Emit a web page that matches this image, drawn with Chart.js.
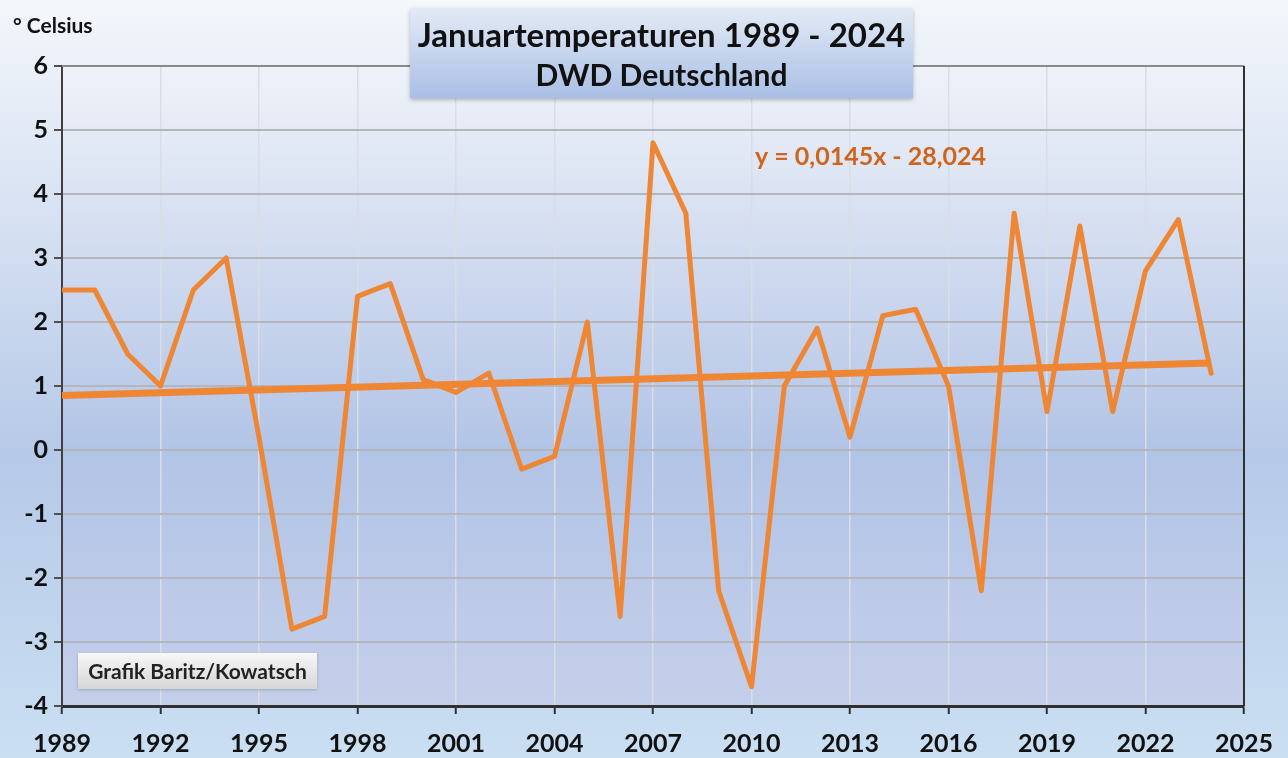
<!DOCTYPE html>
<html lang="de">
<head>
<meta charset="utf-8">
<title>Januartemperaturen 1989 - 2024</title>
<script src="https://cdn.jsdelivr.net/npm/chart.js@4/dist/chart.umd.min.js"></script>
<style>
  html, body { margin: 0; padding: 0; background: #ffffff; }
  #wrap { position: relative; width: 1288px; height: 758px; }
  canvas { display: block; }
</style>
</head>
<body>
<div id="wrap"><canvas id="janChart" width="1288" height="758"></canvas></div>
<script>
// --- Daten: Januarmittel Deutschland (DWD) ---
const years = [1989, 1990, 1991, 1992, 1993, 1994, 1995, 1996, 1997, 1998, 1999, 2000,
               2001, 2002, 2003, 2004, 2005, 2006, 2007, 2008, 2009, 2010, 2011, 2012,
               2013, 2014, 2015, 2016, 2017, 2018, 2019, 2020, 2021, 2022, 2023, 2024];
const temps = [2.5, 2.5, 1.5, 1.0, 2.5, 3.0, 0.2, -2.8, -2.6, 2.4, 2.6, 1.1,
               0.9, 1.2, -0.3, -0.1, 2.0, -2.6, 4.8, 3.7, -2.2, -3.7, 1.0, 1.9,
               0.2, 2.1, 2.2, 1.0, -2.2, 3.7, 0.6, 3.5, 0.6, 2.8, 3.6, 1.2];

// Trendlinie (Endpunkte, wie im Bild)
const trendYears = [1989, 2024];
const trendValues = [0.85, 1.36];

const xTicks = [1989, 1992, 1995, 1998, 2001, 2004, 2007, 2010, 2013, 2016, 2019, 2022, 2025];
const yTicks = [-4, -3, -2, -1, 0, 1, 2, 3, 4, 5, 6];

const FONT = "Lato, 'Open Sans', 'DejaVu Sans', sans-serif";
const ORANGE = '#ef8634';

// Hintergrund, Rahmen und Textfelder
const decoPlugin = {
    id: 'deco',
    beforeDraw(chart) {
        const ctx = chart.ctx;
        const a = chart.chartArea;
        const W = chart.width, H = chart.height;
        ctx.save();
        let g = ctx.createLinearGradient(0, 0, 0, H);
        g.addColorStop(0, '#f4f7fb');
        g.addColorStop(0.6, '#b6c9e8');
        g.addColorStop(1, '#cadff2');
        ctx.fillStyle = g;
        ctx.fillRect(0, 0, W, H);

        g = ctx.createLinearGradient(0, a.top, 0, a.bottom);
        g.addColorStop(0, '#eff2f9');
        g.addColorStop(0.6, '#b2c4e6');
        g.addColorStop(1, '#c4cfea');
        ctx.fillStyle = g;
        ctx.fillRect(a.left, a.top, a.right - a.left, a.bottom - a.top);
        ctx.restore();
    },
    afterDraw(chart) {
        const ctx = chart.ctx;
        const a = chart.chartArea;
        ctx.save();
        // top + right frame
        ctx.strokeStyle = '#8a8a8a';
        ctx.lineWidth = 2;
        ctx.beginPath();
        ctx.moveTo(a.left, a.top);
        ctx.lineTo(a.right, a.top);
        ctx.stroke();
        ctx.strokeStyle = '#303030';
        ctx.beginPath();
        ctx.moveTo(a.right, a.top);
        ctx.lineTo(a.right, a.bottom);
        ctx.stroke();

        // Titelfeld
        const bx = 410, by = 8, bw = 503, bh = 90;
        ctx.shadowColor = 'rgba(0,0,0,0.25)';
        ctx.shadowBlur = 4;
        ctx.shadowOffsetY = 2;
        let g = ctx.createLinearGradient(0, by, 0, by + bh);
        g.addColorStop(0, '#e3eaf6');
        g.addColorStop(1, '#a9bfe5');
        ctx.fillStyle = g;
        ctx.fillRect(bx, by, bw, bh);
        ctx.shadowColor = 'transparent';

        ctx.fillStyle = '#111111';
        ctx.textAlign = 'center';
        ctx.textBaseline = 'middle';
        ctx.font = 'bold 33px ' + FONT;
        ctx.fillText('Januartemperaturen 1989 - 2024', bx + bw / 2, 36);
        ctx.font = 'bold 30px ' + FONT;
        ctx.fillText('DWD Deutschland', bx + bw / 2, 76);

        // Einheit
        ctx.textAlign = 'left';
        ctx.font = 'bold 21px ' + FONT;
        ctx.fillText('° Celsius', 13, 26);

        // Trendgleichung
        ctx.fillStyle = '#d0641c';
        ctx.font = 'bold 25px ' + FONT;
        ctx.fillText('y = 0,0145x - 28,024', 755, 157);

        // Quelle
        const qx = 78, qy = 653, qw = 239, qh = 36;
        ctx.shadowColor = 'rgba(0,0,0,0.2)';
        ctx.shadowBlur = 3;
        ctx.shadowOffsetY = 1;
        g = ctx.createLinearGradient(0, qy, 0, qy + qh);
        g.addColorStop(0, '#f7f7f7');
        g.addColorStop(1, '#d6d6d6');
        ctx.fillStyle = g;
        ctx.fillRect(qx, qy, qw, qh);
        ctx.shadowColor = 'transparent';
        ctx.fillStyle = '#222222';
        ctx.font = 'bold 21px ' + FONT;
        ctx.textAlign = 'center';
        ctx.fillText('Grafik Baritz/Kowatsch', qx + qw / 2, qy + qh / 2 + 1);
        ctx.restore();
    }
};

const ctxLine = document.getElementById('janChart').getContext('2d');
new Chart(ctxLine, {
    type: 'line',
    data: {
        datasets: [
            {
                label: 'Januar',
                data: years.map((y, i) => ({ x: y, y: temps[i] })),
                borderColor: ORANGE,
                borderWidth: 5,
                borderJoinStyle: 'round',
                borderCapStyle: 'round',
                pointRadius: 0,
                tension: 0,
                fill: false,
                order: 2
            },
            {
                label: 'Trend',
                data: trendYears.map((y, i) => ({ x: y, y: trendValues[i] })),
                borderColor: ORANGE,
                borderWidth: 7,
                pointRadius: 0,
                fill: false,
                order: 1
            }
        ]
    },
    options: {
        responsive: false,
        animation: false,
        layout: { padding: { top: 66, right: 44, left: 0, bottom: 0 } },
        plugins: {
            legend: { display: false },
            tooltip: { enabled: false },
            title: { display: false }
        },
        scales: {
            x: {
                type: 'linear',
                min: xTicks[0],
                max: xTicks[xTicks.length - 1],
                afterBuildTicks: (s) => { s.ticks = xTicks.map(v => ({ value: v })); },
                afterFit: (s) => { s.height = 52; },
                ticks: {
                    color: '#111111',
                    font: { family: FONT, size: 25, weight: 'bold' },
                    padding: 15,
                    maxRotation: 0,
                    callback: (v) => String(v)
                },
                grid: {
                    color: '#dadde3',
                    lineWidth: 1.5,
                    tickLength: 8,
                    tickColor: '#303030',
                    tickWidth: 2
                },
                border: { color: '#303030', width: 3 }
            },
            y: {
                min: yTicks[0],
                max: yTicks[yTicks.length - 1],
                afterBuildTicks: (s) => { s.ticks = yTicks.map(v => ({ value: v })); },
                afterFit: (s) => { s.width = 62; },
                ticks: {
                    color: '#111111',
                    font: { family: FONT, size: 25, weight: 'bold' },
                    padding: 6
                },
                grid: {
                    color: '#b3b6bd',
                    lineWidth: 2,
                    tickLength: 8,
                    tickColor: '#505050',
                    tickWidth: 2
                },
                border: { color: '#404040', width: 2 }
            }
        }
    },
    plugins: [decoPlugin]
});
</script>
</body>
</html>
